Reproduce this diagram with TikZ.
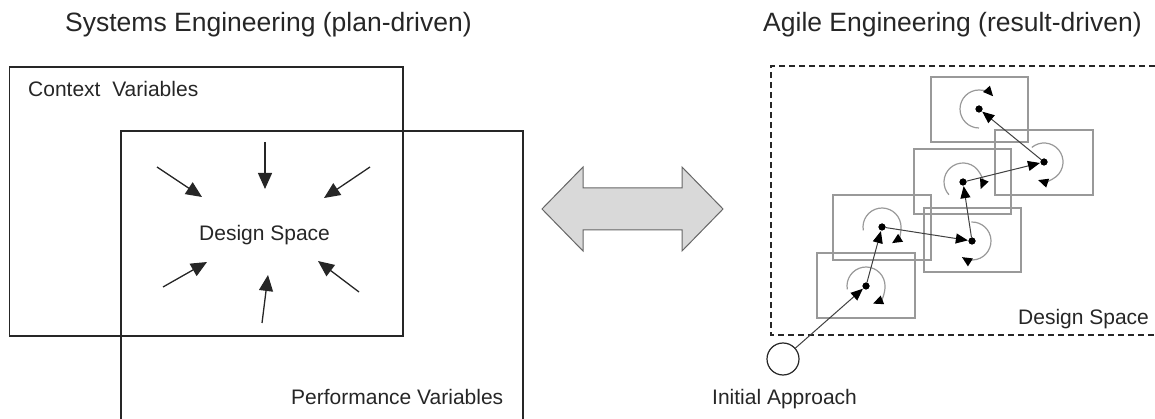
\documentclass[tikz,border=0pt]{standalone}
\usepackage{fontspec}
\setmainfont{Liberation Sans}
\usetikzlibrary{arrows.meta}
\begin{document}
\begin{tikzpicture}[x=1pt,y=-1pt,
  frame/.style={draw=black!85, line width=1.3pt},
  bodytext/.style={font=\fontsize{21}{25}\selectfont, inner sep=0pt, anchor=base west, text=black!85},
  titletext/.style={font=\fontsize{26.5}{31}\selectfont, inner sep=0pt, anchor=base west, text=black!85},
  inward/.style={draw=black!85, line width=1.3pt, -{Triangle[length=16pt,width=14pt]}},
  stepbox/.style={draw=black!40, line width=1.3pt},
  turn/.style={draw=black!40, line width=1.2pt, -{Triangle[length=10pt,width=9pt,black]}},
  stepline/.style={draw=black!75, line width=1pt, -{Triangle[length=12pt,width=10pt,black]}, shorten >=0.5pt},
  dot/.style={circle, fill=black, inner sep=0pt, minimum size=7pt},
]
\useasboundingbox (0,0) rectangle (1155,419);

% ---------- plan-driven side ----------
\node[titletext] (titleL) at (65,32) {Systems Engineering (plan-driven)};

\draw[frame] (9.5,67) rectangle (403,336);
\draw[frame] (121,419) -- (121,131) -- (523,131) -- (523,419);

\node[bodytext] (ctx) at (28,97) {Context\hspace{0.28em} Variables};
\node[bodytext] (perf) at (291,404) {Performance Variables};
\node[bodytext] (dsL) at (199,241) {Design Space};

% constraints closing in on the design space
\coordinate (a1s) at (157,167); \coordinate (a1e) at (202,197);
\coordinate (a2s) at (265,142); \coordinate (a2e) at (265,189);
\coordinate (a3s) at (370,167); \coordinate (a3e) at (324,198);
\coordinate (a4s) at (163,287); \coordinate (a4e) at (207,262);
\coordinate (a5s) at (262,323); \coordinate (a5e) at (268,275);
\coordinate (a6s) at (359,292); \coordinate (a6e) at (318,261);
\foreach \i in {1,...,6} \draw[inward] (a\i s) -- (a\i e);

% ---------- double arrow ----------
\draw[draw=black!60, fill=black!15, line width=1pt, line join=miter]
  (542,209) -- (583,167) -- (583,188) -- (682,188) -- (682,167) -- (723,209)
  -- (682,251) -- (682,230) -- (583,230) -- (583,251) -- cycle;

% ---------- result-driven side ----------
\node[titletext] (titleR) at (763,32) {Agile Engineering (result-driven)};

\draw[draw=black!85, line width=1.2pt, dash pattern=on 6pt off 4pt]
  (1155,66) -- (771,66) -- (771,335) -- (1155,335);
\node[bodytext] (dsR) at (1018,324) {Design Space};

% iteration boxes
\draw[stepbox] (817,253) rectangle (915,318);
\draw[stepbox] (833,195) rectangle (931,260);
\draw[stepbox] (924,208) rectangle (1021,272);
\draw[stepbox] (914,149) rectangle (1011,214);
\draw[stepbox] (995,130) rectangle (1093,195);
\draw[stepbox] (931,77)  rectangle (1028,142);

% iteration points
\node[dot] (dA) at (866,286) {};
\node[dot] (dB) at (882,227) {};
\node[dot] (dC) at (972,241) {};
\node[dot] (dD) at (963,182) {};
\node[dot] (dE) at (1044,162) {};
\node[dot] (dF) at (979,109) {};

% turning loops round each point
\draw[turn] (dA.center) ++(190:19pt) arc[start angle=190, end angle=-68, radius=19pt];
\draw[turn] (dB.center) ++(190:19pt) arc[start angle=190, end angle=-58, radius=19pt];
\draw[turn] (dC.center) ++(92:19pt)  arc[start angle=92,  end angle=-122, radius=19pt];
\draw[turn] (dD.center) ++(222:19pt) arc[start angle=222, end angle=-22, radius=19pt];
\draw[turn] (dE.center) ++(130:19pt) arc[start angle=130, end angle=-108, radius=19pt];
\draw[turn] (dF.center) ++(270:19pt) arc[start angle=270, end angle=42, radius=19pt];

% starting point and path of iterations
\node[circle, draw=black!85, line width=1.2pt, minimum size=32pt, inner sep=0pt] (init) at (783,359) {};
\node[bodytext] (initlabel) at (712,404) {Initial Approach};

\draw[stepline] (init) -- (dA);
\draw[stepline] (dA) -- (dB);
\draw[stepline] (dB) -- (dC);
\draw[stepline] (dC) -- (dD);
\draw[stepline] (dD) -- (dE);
\draw[stepline] (dE) -- (dF);

% points on top
\foreach \p in {dA,dB,dC,dD,dE,dF} \fill (\p) circle[radius=3.5pt];
\end{tikzpicture}
\end{document}
